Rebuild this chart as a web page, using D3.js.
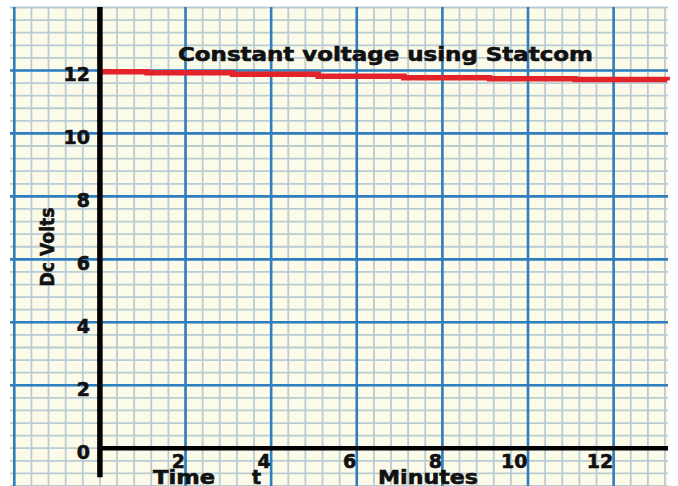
<!DOCTYPE html>
<html>
<head>
<meta charset="utf-8">
<script src="https://cdn.jsdelivr.net/npm/d3@7"></script>
<style>
  html, body { margin: 0; padding: 0; background: #ffffff; }
  svg { display: block; }
  text { font-family: "DejaVu Sans", sans-serif; font-weight: bold; fill: #111; stroke: #111; stroke-width: 0.6px; }
</style>
</head>
<body>
<svg id="chart" width="678" height="486"></svg>
<script>
// ---- data ----
const timeMinutes = [0, 1.1, 3.1, 5.1, 7.1, 9.1, 11.1, 13.25];
const dcVolts     = [11.96, 11.93, 11.88, 11.82, 11.77, 11.74, 11.71, 11.68];
const xTickLabels = [2, 4, 6, 8, 10, 12];
const yTickLabels = [0, 2, 4, 6, 8, 10, 12];
const titleText = "Constant voltage using Statcom";
const yTitle = "Dc Volts";
const xTitleA = "Time";
const xTitleB = "t";
const xTitleC = "Minutes";

const W = 678, H = 486;
const svg = d3.select("#chart");

const x = d3.scaleLinear().domain([-2.03, 13.27]).range([13, 668]);
const y = d3.scaleLinear().domain([-1.2, 14]).range([486, 7.5]);

// paper
svg.append("rect").attr("x", 10).attr("y", 7).attr("width", 658).attr("height", H - 7)
  .attr("fill", "#fcfbea");

const xMinor = d3.range(-5, 34).map(i => +(i * 0.4).toFixed(2));
const yMinor = d3.range(-3, 36).map(i => +(i * 0.4).toFixed(2));
const xMajor = [-2, 2, 4, 6, 8, 10, 12];
const yMajor = [2, 4, 6, 8, 10, 12];

const grid = svg.append("g");
grid.selectAll("line.vmin").data(xMinor).join("line")
  .attr("x1", d => x(d)).attr("x2", d => x(d)).attr("y1", 7).attr("y2", H)
  .attr("stroke", "#b9cbd3").attr("stroke-width", 1.8);
grid.selectAll("line.hmin").data(yMinor).join("line")
  .attr("y1", d => y(d)).attr("y2", d => y(d)).attr("x1", 10).attr("x2", 668)
  .attr("stroke", "#b9cbd3").attr("stroke-width", 1.8);
grid.selectAll("line.vmaj").data(xMajor).join("line")
  .attr("x1", d => x(d)).attr("x2", d => x(d)).attr("y1", 7).attr("y2", H)
  .attr("stroke", "#2f7fbf").attr("stroke-width", 2.6);
grid.selectAll("line.hmaj").data(yMajor).join("line")
  .attr("y1", d => y(d)).attr("y2", d => y(d)).attr("x1", 10).attr("x2", 668)
  .attr("stroke", "#2f7fbf").attr("stroke-width", 2.6);

// red voltage line
const pts = timeMinutes.map((t, i) => [t, dcVolts[i]]);
svg.append("path").datum(pts)
  .attr("d", d3.line().x(d => x(d[0])).y(d => y(d[1])).curve(d3.curveStepAfter))
  .attr("fill", "none").attr("stroke", "#e3232a").attr("stroke-width", 5.5);

// black axes
svg.append("line").attr("x1", x(0)).attr("x2", x(0)).attr("y1", 7).attr("y2", y(-0.92))
  .attr("stroke", "#000").attr("stroke-width", 5.5);
svg.append("line").attr("x1", x(0) - 2).attr("x2", 668).attr("y1", y(0)).attr("y2", y(0))
  .attr("stroke", "#000").attr("stroke-width", 4.5);

// tick labels via d3 axes
const yAxis = svg.append("g").attr("transform", `translate(${x(0)},0)`)
  .call(d3.axisLeft(y).tickValues(yTickLabels).tickSize(0).tickPadding(10).tickFormat(d3.format("d")));
yAxis.select(".domain").remove();
yAxis.selectAll("text").attr("dy", "0.55em")
  .style("font-family", "'DejaVu Sans', sans-serif").style("font-weight", "bold")
  .style("font-size", "19px").attr("fill", "#111");

const xAxis = svg.append("g").attr("transform", `translate(0,${y(0)})`)
  .call(d3.axisBottom(x).tickValues(xTickLabels).tickSize(0).tickPadding(6).tickFormat(d3.format("d")));
xAxis.select(".domain").remove();
xAxis.selectAll("text").attr("text-anchor", "end").attr("dx", -1)
  .style("font-family", "'DejaVu Sans', sans-serif").style("font-weight", "bold")
  .style("font-size", "19px").attr("fill", "#111");

// titles
svg.append("text").attr("x", 178).attr("y", 61).attr("font-size", 19)
  .attr("textLength", 415).attr("lengthAdjust", "spacingAndGlyphs").text(titleText);

svg.append("text").attr("transform", "translate(54,247) rotate(-90)")
  .attr("text-anchor", "middle").attr("font-size", 20)
  .attr("textLength", 79).attr("lengthAdjust", "spacingAndGlyphs").text(yTitle);

svg.append("text").attr("x", 153).attr("y", 484).attr("font-size", 19)
  .attr("textLength", 62).attr("lengthAdjust", "spacingAndGlyphs").text(xTitleA);
svg.append("text").attr("x", 252).attr("y", 484).attr("font-size", 19).text(xTitleB);
svg.append("text").attr("x", 378).attr("y", 484).attr("font-size", 19)
  .attr("textLength", 100).attr("lengthAdjust", "spacingAndGlyphs").text(xTitleC);
</script>
</body>
</html>
